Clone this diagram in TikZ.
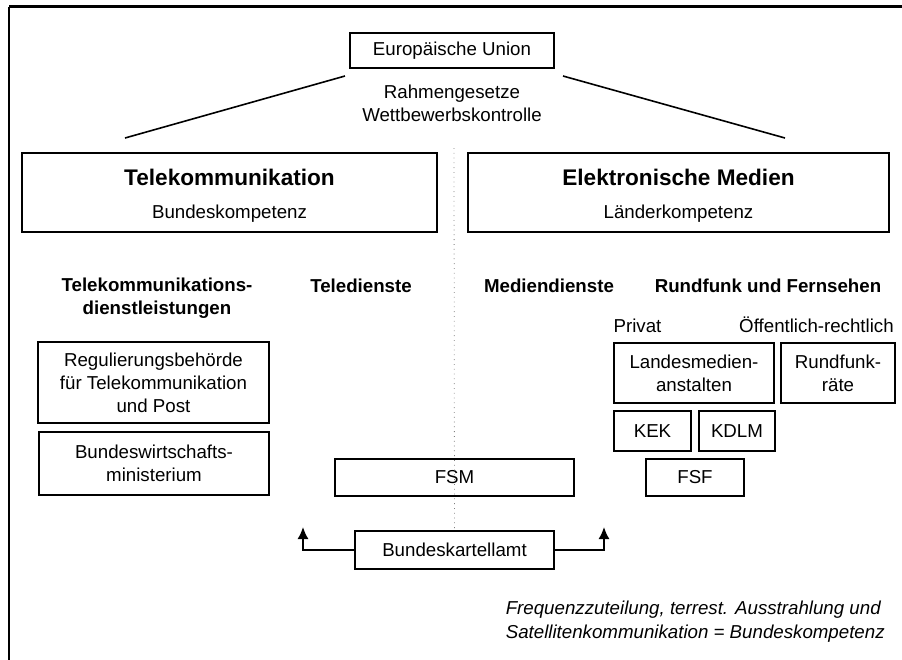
\documentclass[tikz,border=0pt]{standalone}
\usepackage{fontspec}
\setmainfont{Liberation Sans}
\usetikzlibrary{arrows.meta}
\def\txtsize{\fontsize{9.35}{11.5}\selectfont}
\def\headsize{\fontsize{11.3}{13}\selectfont\bfseries}
\tikzstyle{org}=[draw,rectangle,inner sep=0pt,align=center,font=\txtsize]
\tikzstyle{lbl}=[inner sep=0pt,align=center,font=\txtsize]
\tikzstyle{sub}=[inner sep=0pt,align=center,font=\txtsize\bfseries]
\tikzstyle{kartell}=[-{Latex[length=6pt,width=5.5pt]}]

\begin{document}
\begin{tikzpicture}[x=0.5pt,y=-0.5pt,thick]
  \useasboundingbox (0,0) rectangle (902,660);
  % frame
  \draw[line width=1.2pt] (9,6.5) -- (902,6.5);
  \draw (9,6.5) -- (9,660);

  % Place EU on top
  \node[org,minimum width=102pt,minimum height=17.5pt] (eu) at (452,50.5) {Europäische Union};
  \node[lbl] (rahmen) at (452,103) {Rahmengesetze\\Wettbewerbskontrolle};
  \coordinate (eul) at (345,76);
  \coordinate (eur) at (563,76);
  \coordinate (tkl) at (125,138);
  \coordinate (eml) at (785,138);
  \draw (eul) -- (tkl);
  \draw (eur) -- (eml);

  % the two areas
  \node[org,minimum width=207.5pt,minimum height=39.5pt] (tk) at (229.5,192.5) {};
  \node[font=\headsize,inner sep=0pt,anchor=base] (tktitle) at (229.5,185) {Telekommunikation};
  \node[lbl,anchor=base] (tkkomp) at (229.5,218) {Bundeskompetenz};
  \node[org,minimum width=210.5pt,minimum height=39.5pt] (em) at (678.5,192.5) {};
  \node[font=\headsize,inner sep=0pt,anchor=base] (emtitle) at (678.5,185) {Elektronische Medien};
  \node[lbl,anchor=base] (emkomp) at (678.5,218) {Länderkompetenz};

  % headings
  \node[sub] (tkdl) at (157,298.5) {Telekommunikations-\\dienstleistungen};
  \node[sub,anchor=base] (teled) at (361,292) {Teledienste};
  \node[sub,anchor=base] (mediend) at (549,292) {Mediendienste};
  \node[sub,anchor=base] (rufu) at (768,292) {Rundfunk und Fernsehen};
  \node[lbl,anchor=base] (privat) at (637.5,332) {Privat};
  \node[lbl,anchor=base] (oeff) at (816.5,332) {Öffentlich-rechtlich};

  % authorities
  \node[org,minimum width=115.5pt,minimum height=40.5pt] (regtp) at (153.5,382.5)
    {Regulierungsbehörde\\für Telekommunikation\\und Post};
  \node[org,minimum width=115pt,minimum height=31.5pt] (bmwi) at (154,463.5)
    {Bundeswirtschafts-\\ministerium};
  \node[org,minimum width=119.5pt,minimum height=18.5pt] (fsm) at (454.5,477.5) {FSM};
  \node[org,minimum width=80pt,minimum height=30pt] (lma) at (694,373) {Landesmedien-\\anstalten};
  \node[org,minimum width=57pt,minimum height=30pt] (rfr) at (838,373) {Rundfunk-\\räte};
  \node[org,minimum width=38.5pt,minimum height=20pt] (kek) at (652.5,431) {KEK};
  \node[org,minimum width=38pt,minimum height=20pt] (kdlm) at (737,431) {KDLM};
  \node[org,minimum width=49pt,minimum height=18.5pt] (fsf) at (695,477.5) {FSF};
  \node[org,minimum width=99.5pt,minimum height=19pt] (bka) at (454.5,550) {Bundeskartellamt};

  % divider
  \coordinate (divtop) at (454,148);
  \draw[thin,dotted,gray] (divtop) -- (bka.north);

  % Bundeskartellamt arrows
  \coordinate (kl) at (303,527);
  \coordinate (kr) at (604,527);
  \draw[kartell] (bka.west) -| (kl);
  \draw[kartell] (bka.east) -| (kr);

  \node[lbl,anchor=north west,align=left,font=\fontsize{9.35}{12}\selectfont\itshape] (freq) at (505,600)
    {Frequenzzuteilung, terrest. Ausstrahlung und\\Satellitenkommunikation = Bundeskompetenz};
\end{tikzpicture}
\end{document}
